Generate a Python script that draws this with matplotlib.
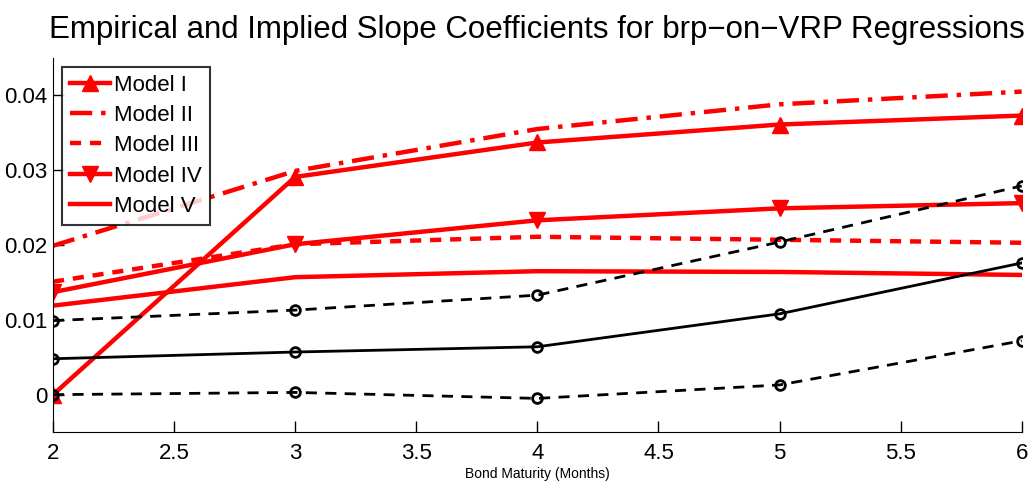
import numpy as np
import matplotlib
matplotlib.use("Agg")
import matplotlib.pyplot as plt

plt.rcParams['font.family'] = ['Liberation Sans', 'DejaVu Sans']

# Bond maturities (months)
maturity = [2, 3, 4, 5, 6]

# Model-implied slope coefficients
model_1 = [0.0000, 0.0291, 0.0337, 0.0361, 0.0373]
model_2 = [0.0199, 0.0299, 0.0355, 0.0388, 0.0405]
model_3 = [0.0151, 0.0201, 0.0211, 0.0207, 0.0203]
model_4 = [0.0137, 0.0201, 0.0233, 0.0249, 0.0256]
model_5 = [0.0119, 0.0157, 0.0165, 0.0164, 0.0160]

# Empirical estimate and confidence band
empirical = [0.0048, 0.0057, 0.0064, 0.0108, 0.0176]
upper_band = [0.0099, 0.0113, 0.0133, 0.0204, 0.0279]
lower_band = [0.0000, 0.0003, -0.0005, 0.0013, 0.0072]

fig = plt.figure(figsize=(10.32, 4.91), dpi=100)
ax = fig.add_axes([0.0514, 0.120, 0.9386, 0.762])

red = '#ff0000'
ax.plot(maturity, model_1, color=red, lw=3.2, marker='^', ms=11, label='Model I')
ax.plot(maturity, model_2, color=red, lw=3.2, ls=(0, (5, 2, 1, 2)), label='Model II')
ax.plot(maturity, model_3, color=red, lw=3.2, ls=(0, (2.5, 2)), label='Model III')
ax.plot(maturity, model_4, color=red, lw=3.2, marker='v', ms=11, label='Model IV')
ax.plot(maturity, model_5, color=red, lw=3.2, label='Model V')

ax.plot(maturity, empirical, color='black', lw=2, marker='o', ms=7,
        mfc='none', mew=2)
ax.plot(maturity, upper_band, color='black', lw=2, ls=(0, (4, 3)), marker='o',
        ms=7, mfc='none', mew=2)
ax.plot(maturity, lower_band, color='black', lw=2, ls=(0, (4, 3)), marker='o',
        ms=7, mfc='none', mew=2)

ax.set_xlim(2, 6)
ax.set_ylim(-0.005, 0.045)
ax.set_xticks([2, 2.5, 3, 3.5, 4, 4.5, 5, 5.5, 6])
ax.set_xticklabels(['2', '2.5', '3', '3.5', '4', '4.5', '5', '5.5', '6'])
ax.set_yticks([0, 0.01, 0.02, 0.03, 0.04])
ax.set_yticklabels(['0', '0.01', '0.02', '0.03', '0.04'])
ax.tick_params(labelsize=16, direction='in', length=8, width=1)
ax.tick_params(axis='y', pad=4)
ax.tick_params(axis='x', pad=8)
ax.spines['top'].set_visible(False)
ax.spines['right'].set_visible(False)

ax.set_xlabel('Bond Maturity (Months)', fontsize=10, labelpad=2)
ax.set_title('Empirical and Implied Slope Coefficients for brp\u2212on\u2212VRP Regressions',
             fontsize=22.5, pad=14)

leg = ax.legend(loc='upper left', fontsize=16, frameon=True, fancybox=False,
                edgecolor='black', handlelength=1.8, handletextpad=0.2,
                borderpad=0.35, labelspacing=0.42, borderaxespad=0.4)
leg.get_frame().set_linewidth(1.5)

fig.savefig('out.png', dpi=100)
